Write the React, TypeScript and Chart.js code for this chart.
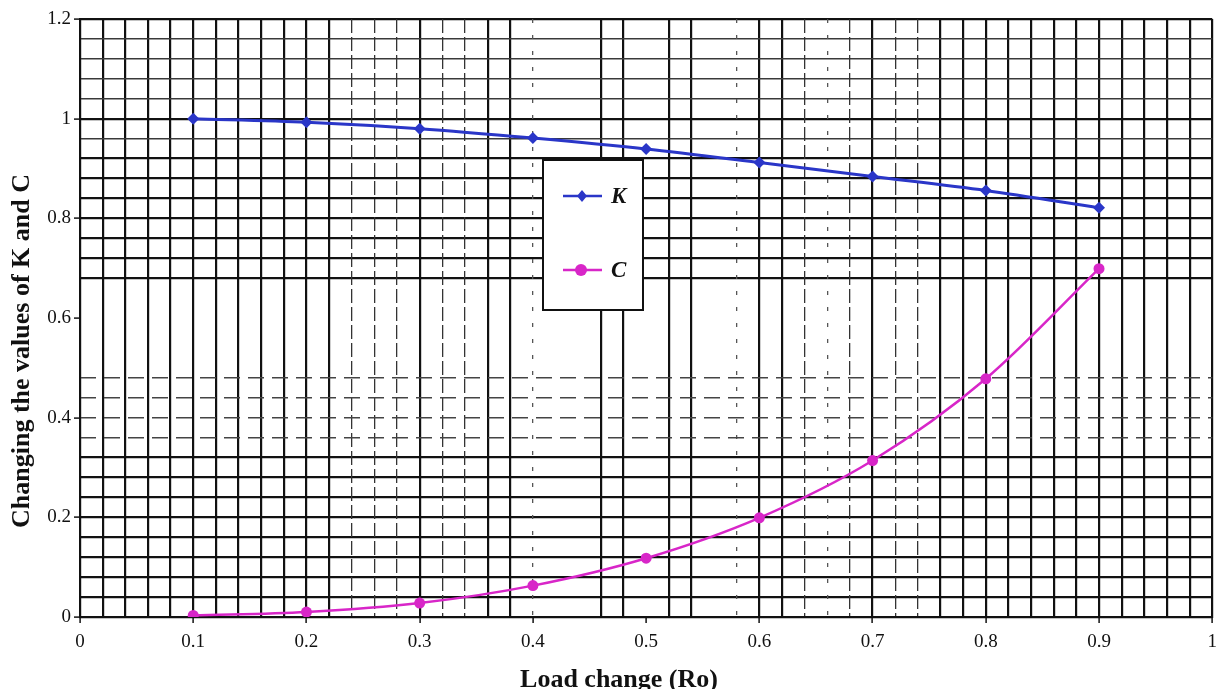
import React, { useEffect, useRef } from "react";
import { Chart, registerables } from "chart.js";

Chart.register(...registerables);

// ---- data ----
const loadValues = [0.1, 0.2, 0.3, 0.4, 0.5, 0.6, 0.7, 0.8, 0.9];
const kValues = [1.0, 0.993, 0.98, 0.961, 0.939, 0.912, 0.884, 0.856, 0.821];
const cValues = [0.003, 0.01, 0.028, 0.063, 0.118, 0.199, 0.314, 0.478, 0.699];

const xTickLabels = ["0", "0.1", "0.2", "0.3", "0.4", "0.5", "0.6", "0.7", "0.8", "0.9", "1"];
const yTickLabels = ["0", "0.2", "0.4", "0.6", "0.8", "1", "1.2"];

const xTitle = "Load change (Ro)";
const yTitle = "Changing the values of K and C";
const seriesNames = ["K", "C"];

// grid-paper line categories (in hundredths of the axis unit)
const xThin = [24, 26, 28, 32, 34, 64, 68, 72, 74];
const xDotted = [40, 58, 66];
const xMissing = [42, 44, 50, 56];
const yThin = [96, 104, 108, 112, 116];
const yDashed = [36, 40, 44, 48];
const yMissing = [52, 56, 60, 64];

const K_COLOR = "#2a36c8";
const C_COLOR = "#d826c8";
const SERIF = "'Liberation Serif', 'Times New Roman', serif";

const hund = (v: number) => Math.round(v * 100);

const zeroW = (s: any) => {
  s.width = 0;
};
const zeroH = (s: any) => {
  s.height = 0;
};

const hiddenAxis = (axis: "x" | "y", pos: string, min: number, max: number, step: number, color: (c: any) => string, width: number, dash: number[]) => ({
  type: "linear",
  axis,
  position: pos,
  min,
  max,
  display: true,
  ticks: { display: false, stepSize: step, autoSkip: false },
  grid: { color, lineWidth: width, drawTicks: false },
  border: { display: false, dash },
  afterFit: axis === "x" ? zeroH : zeroW,
});

const legendPlugin = {
  id: "boxLegend",
  afterDatasetsDraw(chart: any) {
    const ctx = chart.ctx;
    ctx.save();
    ctx.fillStyle = "#ffffff";
    ctx.fillRect(543, 160, 100, 150);
    ctx.lineWidth = 2;
    ctx.strokeStyle = "#111";
    ctx.strokeRect(543, 160, 100, 150);
    const rows = [
      { y: 196, color: K_COLOR, name: seriesNames[0], diamond: true },
      { y: 270, color: C_COLOR, name: seriesNames[1], diamond: false },
    ];
    rows.forEach((r) => {
      ctx.strokeStyle = r.color;
      ctx.fillStyle = r.color;
      ctx.lineWidth = 2.5;
      ctx.beginPath();
      ctx.moveTo(563, r.y);
      ctx.lineTo(602, r.y);
      ctx.stroke();
      ctx.beginPath();
      if (r.diamond) {
        ctx.moveTo(582, r.y - 6);
        ctx.lineTo(587, r.y);
        ctx.lineTo(582, r.y + 6);
        ctx.lineTo(577, r.y);
        ctx.closePath();
      } else {
        ctx.arc(581, r.y, 6, 0, Math.PI * 2);
      }
      ctx.fill();
      ctx.fillStyle = "#111";
      ctx.font = `italic bold 23px ${SERIF}`;
      ctx.textAlign = "left";
      ctx.textBaseline = "middle";
      ctx.fillText(r.name, 611, r.y + 1);
    });
    ctx.restore();
  },
};

const titlePlugin = {
  id: "axisTitles",
  afterDraw(chart: any) {
    const ctx = chart.ctx;
    ctx.save();
    ctx.fillStyle = "#111";
    ctx.textAlign = "center";
    ctx.textBaseline = "middle";
    ctx.font = `bold 26px ${SERIF}`;
    ctx.fillText(xTitle, 619, 680);
    ctx.translate(22, 351);
    ctx.rotate(-Math.PI / 2);
    ctx.font = `bold 26px ${SERIF}`;
    ctx.fillText(yTitle, 0, 0);
    ctx.restore();
  },
};

export default function App() {
  const ref = useRef<HTMLCanvasElement | null>(null);

  useEffect(() => {
    document.body.style.margin = "0";
    if (!ref.current) return;

    const xMain = (c: any) => {
      const v = hund(c.tick?.value ?? 0);
      if (xThin.includes(v) || xDotted.includes(v) || xMissing.includes(v)) return "rgba(0,0,0,0)";
      return "#111";
    };
    const yMain = (c: any) => {
      const v = hund(c.tick?.value ?? 0);
      if (yDashed.includes(v) || yMissing.includes(v)) return "rgba(0,0,0,0)";
      if (yThin.includes(v)) return "#3a3a3a";
      return "#111";
    };
    const yMainW = (c: any) => {
      const v = hund(c.tick?.value ?? 0);
      return yThin.includes(v) ? 1.4 : 2.2;
    };

    const chart = new Chart(ref.current, {
      type: "line",
      data: {
        datasets: [
          {
            label: seriesNames[0],
            data: loadValues.map((x, i) => ({ x, y: kValues[i] })),
            borderColor: K_COLOR,
            backgroundColor: K_COLOR,
            borderWidth: 3,
            pointStyle: "rectRot",
            pointRadius: 6,
            pointBorderWidth: 0,
            tension: 0.3,
          },
          {
            label: seriesNames[1],
            data: loadValues.map((x, i) => ({ x, y: cValues[i] })),
            borderColor: C_COLOR,
            backgroundColor: C_COLOR,
            borderWidth: 2.5,
            pointStyle: "circle",
            pointRadius: 5.5,
            pointBorderWidth: 0,
            cubicInterpolationMode: "monotone",
          },
        ],
      },
      options: {
        responsive: false,
        animation: false,
        layout: { padding: { top: 19, right: 8, left: 0, bottom: 0 } },
        plugins: {
          legend: { display: false },
          tooltip: { enabled: false },
          title: { display: false },
        },
        scales: {
          x: {
            type: "linear",
            position: "bottom",
            min: 0,
            max: 1,
            ticks: {
              stepSize: 0.02,
              autoSkip: false,
              maxRotation: 0,
              padding: 8,
              color: "#111",
              font: { family: SERIF, size: 19 },
              callback: (v: any) => {
                const h = hund(Number(v));
                return h % 10 === 0 ? xTickLabels[h / 10] : "";
              },
            },
            grid: {
              color: xMain,
              lineWidth: 2.2,
              tickLength: 6,
              tickWidth: 1.5,
              tickColor: (c: any) => (hund(c.tick?.value ?? 0) % 10 === 0 ? "#111" : "rgba(0,0,0,0)"),
            },
            border: { display: true, color: "#111", width: 2 },
            afterFit: (s: any) => {
              s.height = 72;
            },
          },
          y: {
            type: "linear",
            position: "left",
            min: 0,
            max: 1.2,
            ticks: {
              stepSize: 0.04,
              autoSkip: false,
              padding: 3,
              color: "#111",
              font: { family: SERIF, size: 19 },
              callback: (v: any) => {
                const h = hund(Number(v));
                return h % 20 === 0 ? yTickLabels[h / 20] : "";
              },
            },
            grid: {
              color: yMain,
              lineWidth: yMainW,
              tickLength: 6,
              tickWidth: 1.5,
              tickColor: (c: any) => (hund(c.tick?.value ?? 0) % 20 === 0 ? "#111" : "rgba(0,0,0,0)"),
            },
            border: { display: true, color: "#111", width: 2 },
            afterFit: (s: any) => {
              s.width = 80;
            },
          },
          xThinAxis: hiddenAxis("x", "bottom", 0, 1, 0.02, (c: any) => (xThin.includes(hund(c.tick?.value ?? 0)) ? "#333" : "rgba(0,0,0,0)"), 1.3, [14, 4]),
          xDotAxis: hiddenAxis("x", "bottom", 0, 1, 0.02, (c: any) => (xDotted.includes(hund(c.tick?.value ?? 0)) ? "#555" : "rgba(0,0,0,0)"), 1.3, [4, 12]),
          yDashAxis: hiddenAxis("y", "left", 0, 1.2, 0.04, (c: any) => (yDashed.includes(hund(c.tick?.value ?? 0)) ? "#444" : "rgba(0,0,0,0)"), 1.6, [16, 8]),
        } as any,
      },
      plugins: [legendPlugin, titlePlugin],
    } as any);

    return () => chart.destroy();
  }, []);

  return (
    <div style={{ width: 1225, height: 689, background: "#fff" }}>
      <canvas ref={ref} width={1225} height={689} />
    </div>
  );
}
